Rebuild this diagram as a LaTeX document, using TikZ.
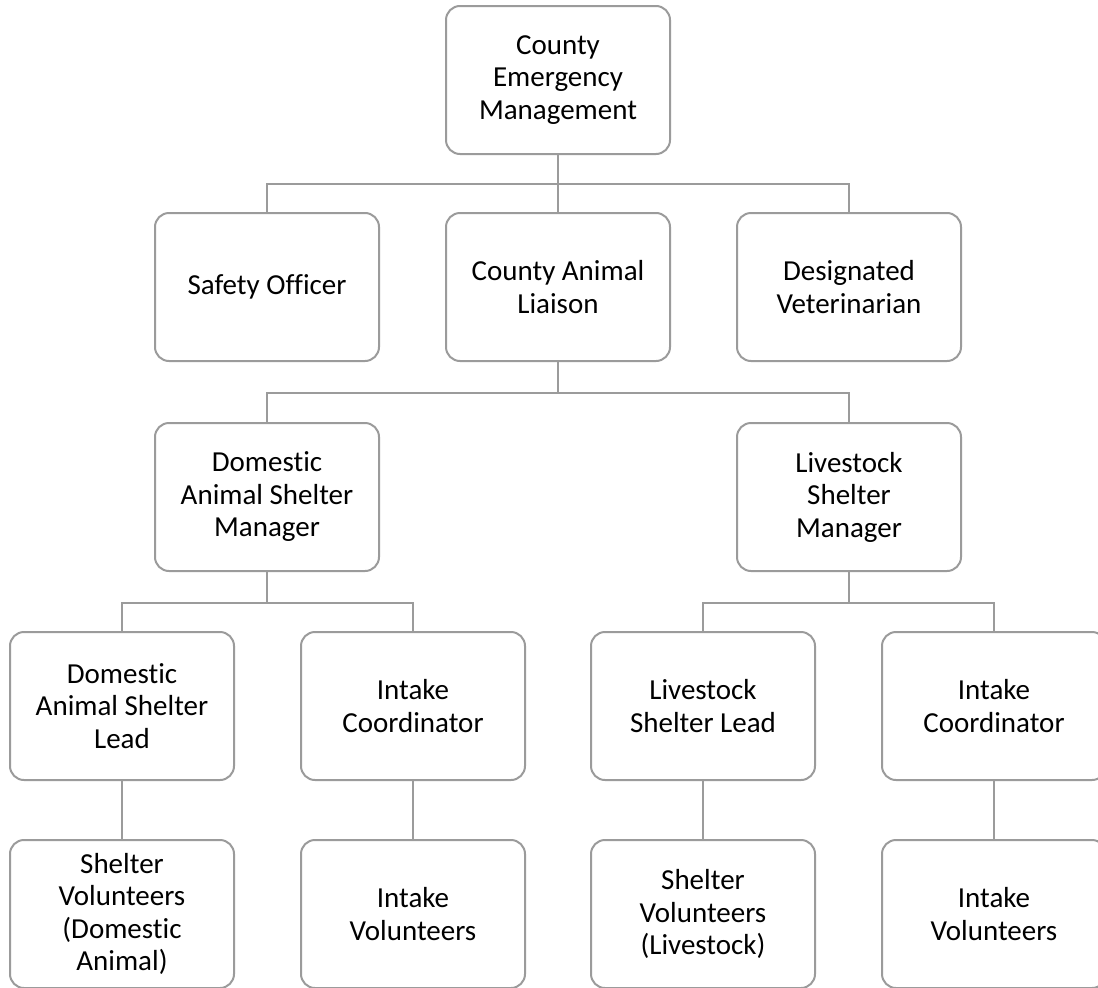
\documentclass[tikz,border=0pt]{standalone}
\usepackage{fontspec}
\setmainfont{Carlito}[Ligatures=NoCommon]
\definecolor{linegray}{HTML}{9B9B9B}
\begin{document}
\begin{tikzpicture}[x=1pt,y=-1pt,
  box/.style={draw=linegray,line width=2pt,rounded corners=14pt,minimum width=224pt,minimum height=148pt,align=center,inner sep=0pt,font=\fontsize{29}{32.5}\selectfont},
  link/.style={draw=linegray,line width=2pt}]
\clip (0,0) rectangle (1098,988);
% top
\node[box] (cem) at (558,80) {County\\Emergency\\Management};
% second row
\node[box] (safety) at (267,287) {Safety Officer};
\node[box] (liaison) at (558,287) {County Animal\\Liaison};
\node[box] (vet) at (849,287) {Designated\\Veterinarian};
% shelter managers
\node[box] (dmgr) at (267,497) {Domestic\\Animal Shelter\\Manager};
\node[box] (lmgr) at (849,497) {Livestock\\Shelter\\Manager};
% leads and coordinators
\node[box] (dlead) at (122,706) {Domestic\\Animal Shelter\\Lead};
\node[box] (dintake) at (413,706) {Intake\\Coordinator};
\node[box] (llead) at (703,706) {Livestock\\Shelter Lead};
\node[box] (lintake) at (994,706) {Intake\\Coordinator};
% volunteers
\node[box] (dvol) at (122,914) {Shelter\\Volunteers\\(Domestic\\Animal)};
\node[box] (divol) at (413,914) {Intake\\Volunteers};
\node[box] (lvol) at (703,914) {Shelter\\Volunteers\\(Livestock)};
\node[box] (livol) at (994,914) {Intake\\Volunteers};
% connectors
\draw[link] (cem.south) -- ++(0,29) coordinate (b1);
\draw[link] (b1) -| (safety.north); \draw[link] (b1) -| (vet.north); \draw[link] (b1) -- (liaison.north);
\draw[link] (liaison.south) -- ++(0,31) coordinate (b2);
\draw[link] (b2) -| (dmgr.north); \draw[link] (b2) -| (lmgr.north);
\draw[link] (dmgr.south) -- ++(0,31) coordinate (b3);
\draw[link] (b3) -| (dlead.north); \draw[link] (b3) -| (dintake.north);
\draw[link] (lmgr.south) -- ++(0,31) coordinate (b4);
\draw[link] (b4) -| (llead.north); \draw[link] (b4) -| (lintake.north);
\foreach \a/\b in {dlead/dvol,dintake/divol,llead/lvol,lintake/livol}
  \draw[link] (\a.south) -- (\b.north);
\end{tikzpicture}
\end{document}
